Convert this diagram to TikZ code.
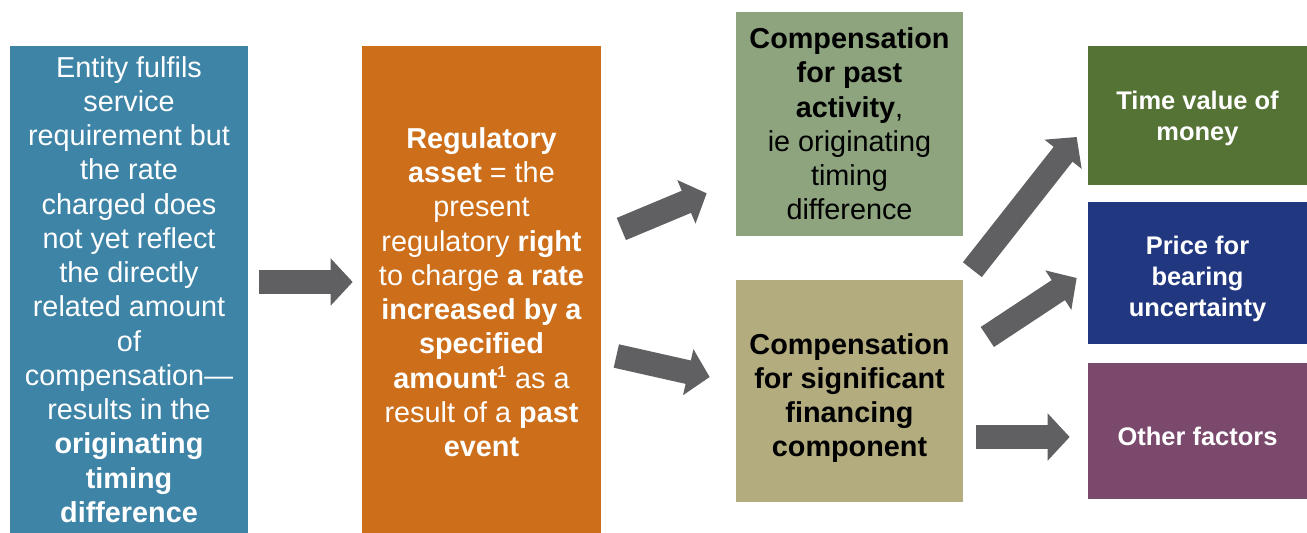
\documentclass[tikz,border=0pt]{standalone}
\usepackage{fontspec}
\setmainfont{Liberation Sans}
\usetikzlibrary{calc, arrows.meta}

\definecolor{entityblue}{RGB}{62,132,167}
\definecolor{assetorange}{RGB}{204,110,26}
\definecolor{pastgreen}{RGB}{141,164,126}
\definecolor{financetan}{RGB}{179,172,127}
\definecolor{timegreen}{RGB}{84,115,52}
\definecolor{pricenavy}{RGB}{33,56,128}
\definecolor{otherplum}{RGB}{122,73,108}
\definecolor{arrowgray}{RGB}{96,96,98}
% strut to push a text block a little down in its box
\newcommand{\lift}[1]{\rule{0pt}{#1}}

\begin{document}
\begin{tikzpicture}[x=0.02cm, y=-0.02cm,
  box/.style={inner sep=0pt, align=center, font=\fontsize{16.4}{19.5}\selectfont},
  smallbox/.style={box, text=white, minimum width=4.38cm,
    font=\fontsize{14.5}{17.6}\selectfont\bfseries},
  fat/.style={draw=arrowgray, line width=0.48cm,
    -{Triangle[length=0.44cm,width=0.92cm]}}]
\useasboundingbox (0,0) rectangle (1307,533);
% Left column
\node[box, fill=entityblue, text=white, minimum width=4.76cm, minimum height=9.74cm]
  (entity) at (129,289.5) {Entity fulfils\\ service\\ requirement but\\ the rate\\
  charged does\\ not yet reflect\\ the directly\\ related amount\\ of\\ compensation—\\
  results in the\\ \textbf{originating}\\ \textbf{timing}\\ \textbf{difference}};
\node[box, fill=assetorange, text=white, minimum width=4.78cm, minimum height=9.74cm]
  (asset) at (481.5,289.5) {\lift{15pt}\textbf{Regulatory}\\ \textbf{asset} = the\\ present\\
  regulatory \textbf{right}\\ to charge \textbf{a rate}\\ \textbf{increased by a}\\
  \textbf{specified}\\ \textbf{amount\textsuperscript{\small 1}} as a\\
  result of a \textbf{past}\\ \textbf{event}};
% Middle column
\node[box, fill=pastgreen, minimum width=4.54cm, minimum height=4.48cm]
  (past) at (849.5,124) {\textbf{Compensation}\\ \textbf{for past}\\ \textbf{activity},\\
  ie originating\\ timing\\ difference};
\node[box, fill=financetan, minimum width=4.54cm, minimum height=4.44cm,
  font=\fontsize{16.4}{19.5}\selectfont\bfseries]
  (finance) at (849.5,391) {\lift{20pt}Compensation\\ for significant\\ financing\\ component};
% Right column
\node[smallbox, fill=timegreen, minimum height=2.78cm] (time) at (1197.5,115.5)
  {\lift{14pt}Time value of\\ money};
\node[smallbox, fill=pricenavy, minimum height=2.84cm] (price) at (1197.5,273)
  {\lift{17pt}Price for\\ bearing\\ uncertainty};
\node[smallbox, fill=otherplum, minimum height=2.72cm] (other) at (1197.5,431)
  {\lift{17pt}Other factors};
% Arrows
\draw[fat] ($(entity.east)+(11,-7.5)$) -- ($(asset.west)+(-9,-7.5)$);
\draw[fat] ($(asset.east)+(20,-60.5)$) -- ($(past.south west)+(-29,-43)$);
\draw[fat] ($(asset.east)+(15,66.5)$) -- ($(finance.west)+(-26,-14)$);
\draw[fat] ($(finance.north east)+(9,-10)$) -- ($(time.west)+(-11,21.5)$);
\draw[fat] ($(finance.east)+(24,-54)$) -- ($(price.west)+(-11,5)$);
\draw[fat] ($(finance.east)+(13,46)$) -- ($(other.west)+(-18,6)$);
\end{tikzpicture}
\end{document}
